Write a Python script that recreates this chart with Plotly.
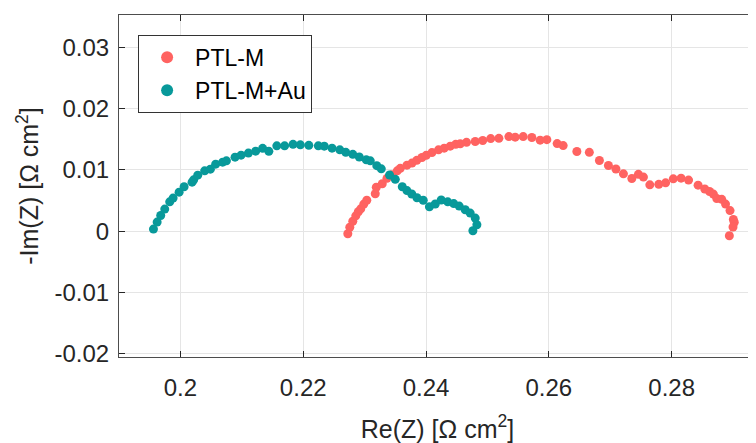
import plotly.graph_objects as go

# PTL-M (red)
ptlm_re = [0.22726, 0.22758, 0.22807, 0.22856, 0.22897, 0.22937, 0.22986, 0.23035, 0.23173, 0.23190,
           0.23287, 0.23364, 0.23442, 0.23531, 0.23580, 0.23689, 0.23771, 0.23849, 0.23933, 0.24003,
           0.24096, 0.24203, 0.24296, 0.24394, 0.24483, 0.24557, 0.24659, 0.24801, 0.24923, 0.25053,
           0.25186, 0.25349, 0.25452, 0.25582, 0.25723, 0.25858, 0.25967, 0.26135, 0.26233, 0.26456,
           0.26659, 0.26823, 0.26970, 0.27092, 0.27214, 0.27351, 0.27458, 0.27540, 0.27644, 0.27790,
           0.27901, 0.28026, 0.28153, 0.28275, 0.28430, 0.28539, 0.28617, 0.28679, 0.28734, 0.28815,
           0.28877, 0.28950, 0.29004, 0.29019, 0.28999, 0.28939]
ptlm_im = [-0.00041, 0.00065, 0.00163, 0.00252, 0.00318, 0.00366, 0.00443, 0.00505, 0.00611, 0.00717,
           0.00774, 0.00863, 0.00920, 0.00985, 0.01026, 0.01078, 0.01111, 0.01156, 0.01202, 0.01238,
           0.01283, 0.01327, 0.01355, 0.01388, 0.01417, 0.01425, 0.01450, 0.01463, 0.01479, 0.01511,
           0.01515, 0.01544, 0.01534, 0.01544, 0.01528, 0.01485, 0.01493, 0.01430, 0.01397, 0.01300,
           0.01287, 0.01153, 0.01072, 0.01015, 0.00936, 0.00860, 0.00928, 0.00883, 0.00757, 0.00765,
           0.00790, 0.00855, 0.00866, 0.00834, 0.00752, 0.00689, 0.00648, 0.00606, 0.00534, 0.00521,
           0.00443, 0.00337, 0.00192, 0.00147, 0.00070, -0.00073]

# PTL-M+Au (teal)
ptlmau_re = [0.19561, 0.19621, 0.19679, 0.19745, 0.19826, 0.19881, 0.19979, 0.20060, 0.20190, 0.20216,
             0.20282, 0.20395, 0.20488, 0.20574, 0.20688, 0.20749, 0.20890, 0.20988, 0.21107, 0.21225,
             0.21339, 0.21440, 0.21570, 0.21697, 0.21834, 0.21953, 0.22091, 0.22246, 0.22343, 0.22469,
             0.22596, 0.22693, 0.22807, 0.22913, 0.23027, 0.23092, 0.23198, 0.23271, 0.23406, 0.23499,
             0.23613, 0.23689, 0.23767, 0.23852, 0.23954, 0.24055, 0.24150, 0.24247, 0.24353, 0.24451,
             0.24540, 0.24638, 0.24719, 0.24801, 0.24828, 0.24763]
ptlmau_im = [0.00036, 0.00150, 0.00257, 0.00362, 0.00480, 0.00541, 0.00638, 0.00725, 0.00801, 0.00839,
             0.00915, 0.00985, 0.01013, 0.01094, 0.01127, 0.01148, 0.01208, 0.01241, 0.01274, 0.01306,
             0.01352, 0.01303, 0.01393, 0.01393, 0.01417, 0.01409, 0.01401, 0.01393, 0.01388, 0.01355,
             0.01327, 0.01287, 0.01254, 0.01210, 0.01164, 0.01148, 0.01070, 0.01018, 0.00917, 0.00847,
             0.00725, 0.00663, 0.00607, 0.00546, 0.00505, 0.00399, 0.00445, 0.00510, 0.00480, 0.00451,
             0.00410, 0.00350, 0.00296, 0.00215, 0.00106, 0.00008]

x_ticks = [0.2, 0.22, 0.24, 0.26, 0.28]
x_ticklabels = ["0.2", "0.22", "0.24", "0.26", "0.28"]
y_ticks = [-0.02, -0.01, 0, 0.01, 0.02, 0.03]
y_ticklabels = ["-0.02", "-0.01", "0", "0.01", "0.02", "0.03"]

RED = "#FF6361"
TEAL = "#08999A"
AXC = "#262626"
FONT = "Liberation Sans, Arial, sans-serif"

fig = go.Figure()
fig.add_trace(go.Scatter(x=ptlm_re, y=ptlm_im, mode="markers", name="PTL-M",
                         marker=dict(color=RED, size=9, line=dict(width=0))))
fig.add_trace(go.Scatter(x=ptlmau_re, y=ptlmau_im, mode="markers", name="PTL-M+Au",
                         marker=dict(color=TEAL, size=9, line=dict(width=0))))

# page body has an 8px margin: figure is sized to fill the rest of the window
fig.update_layout(
    width=748, height=435,
    margin=dict(l=111, r=0, t=7, b=86, pad=0),
    paper_bgcolor="white", plot_bgcolor="white",
    font=dict(family=FONT, size=24, color=AXC),
    showlegend=True,
    legend=dict(x=0.03, y=0.942, xanchor="left", yanchor="top",
                bgcolor="white", bordercolor="#333333", borderwidth=1,
                font=dict(size=23, color="black"), itemsizing="constant",
                itemwidth=46, tracegroupgap=0),
)
fig.update_xaxes(
    range=[0.19, 0.29373], tickvals=x_ticks, ticktext=x_ticklabels, automargin=False,
    showgrid=True, gridcolor="#e5e5e5", gridwidth=1, zeroline=False,
    showline=True, linecolor="#4d4d4d", linewidth=1, mirror="ticks",
    ticks="inside", ticklen=6, tickcolor=AXC, ticklabelstandoff=9,
    tickfont=dict(size=24, color=AXC),
    title=dict(text="Re(Z) [\u03A9 cm<sup>2</sup>]", font=dict(size=25, color=AXC), standoff=32),
)
fig.update_yaxes(
    range=[-0.0205, 0.03526], tickvals=y_ticks, ticktext=y_ticklabels, automargin=False,
    showgrid=True, gridcolor="#e5e5e5", gridwidth=1, zeroline=False,
    showline=True, linecolor="#4d4d4d", linewidth=1, mirror=False,
    ticks="inside", ticklen=6, tickcolor=AXC, ticklabelstandoff=4,
    tickfont=dict(size=24, color=AXC),
    title=dict(text="-Im(Z) [\u03A9 cm<sup>2</sup>]", font=dict(size=25, color=AXC), standoff=8),
)

fig.write_html("out.html")
